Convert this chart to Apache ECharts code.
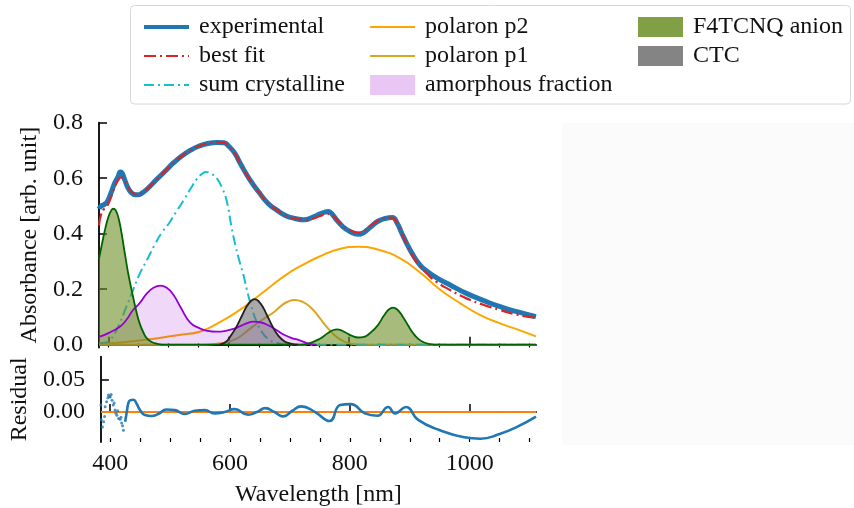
<!DOCTYPE html>
<html>
<head>
<meta charset="utf-8">
<script src="https://cdn.jsdelivr.net/npm/echarts@6/dist/echarts.min.js"></script>
<style>
  html, body { margin: 0; padding: 0; background: #fff; }
  #chart { width: 854px; height: 508px; }
</style>
</head>
<body>
<div id="chart"></div>
<script>
// Absorption spectrum of the doped film, its fit decomposition and residual.
// Each array holds [wavelength (nm), value] pairs.

const experimental = [
  [384.5,0.490],[388,0.500],[393,0.505],[398,0.515],[404,0.545],[410,0.580],[416,0.605],
  [420,0.622],[423,0.618],[427,0.595],[432,0.568],[438,0.548],[445,0.540],[450,0.540],
  [457,0.548],[465,0.562],[480,0.595],[495,0.627],[508,0.655],[522,0.680],[536,0.700],
  [550,0.715],[565,0.725],[580,0.729],[592,0.728],[600,0.715],[610,0.690],[620,0.650],
  [635,0.595],[650,0.550],[665,0.510],[680,0.485],[695,0.465],[710,0.455],[725,0.450],
  [740,0.460],[752,0.472],[760,0.478],[766,0.480],[772,0.470],[780,0.448],[790,0.425],
  [800,0.410],[815,0.398],[825,0.405],[835,0.423],[848,0.445],[860,0.455],[872,0.458],
  [880,0.438],[888,0.400],[897,0.360],[905,0.328],[918,0.287],[930,0.264],[945,0.242],
  [968,0.215],[995,0.185],[1023,0.160],[1051,0.137],[1079,0.119],[1110.7,0.101]
];

const bestFit = [
  [384.5,0.430],[388,0.470],[393,0.490],[398,0.500],[404,0.530],[410,0.565],[416,0.592],
  [421,0.603],[426,0.595],[432,0.572],[438,0.552],[445,0.543],[450,0.542],
  [457,0.548],[465,0.562],[480,0.595],[495,0.627],[508,0.655],[522,0.680],[536,0.700],
  [550,0.715],[565,0.725],[580,0.729],[592,0.728],[600,0.715],[610,0.690],[620,0.650],
  [635,0.595],[650,0.550],[665,0.510],[680,0.485],[695,0.465],[710,0.455],[725,0.450],
  [740,0.455],[752,0.464],[762,0.470],[768,0.471],[775,0.462],[782,0.445],[790,0.428],
  [800,0.414],[815,0.404],[825,0.410],[835,0.427],[848,0.447],[860,0.456],[870,0.458],
  [878,0.445],[886,0.410],[895,0.365],[905,0.322],[918,0.283],[930,0.255],[945,0.227],
  [968,0.197],[995,0.167],[1023,0.144],[1051,0.125],[1079,0.108],[1110.7,0.097]
];

const sumCrystalline = [
  [384.5,0.005],[395,0.008],[403,0.017],[415,0.060],[430,0.137],[441,0.197],[452,0.255],
  [464,0.305],[477,0.360],[489,0.405],[500,0.435],[513,0.480],[525,0.520],[536,0.560],
  [548,0.600],[556,0.616],[562,0.622],[570,0.617],[580,0.600],[590,0.560],[597,0.515],
  [605,0.420],[612,0.350],[618,0.300],[624,0.255],[630,0.200],[636,0.150],[646,0.085],
  [657,0.040],[666,0.020],[674,0.010],[690,0.002],[710,0.0],[1110.7,0.0]
];

const polaronP2 = [
  [384.5,0.004],[420,0.008],[455,0.016],[490,0.026],[520,0.036],[552,0.047],[580,0.075],
  [614,0.119],[640,0.160],[669,0.209],[694,0.250],[718,0.282],[751,0.318],[784,0.345],
  [815,0.353],[851,0.341],[885,0.311],[918,0.260],[951,0.199],[985,0.149],[1018,0.107],
  [1051,0.077],[1085,0.051],[1110.7,0.030]
];

const polaronP1 = [
  [384.5,0.0],[560,0.0],[590,0.006],[614,0.023],[636,0.059],[656,0.090],[676,0.119],
  [687,0.140],[698,0.155],[710,0.161],[722,0.155],[735,0.137],[747.5,0.107],[758,0.077],
  [770,0.047],[780,0.027],[792,0.011],[805,0.003],[820,0.0],[1110.7,0.0]
];

const amorphous = [
  [384.5,0.028],[400,0.042],[419,0.065],[430,0.090],[441,0.125],[452,0.150],[464,0.185],
  [475,0.205],[486,0.213],[497,0.205],[508,0.180],[520,0.135],[536,0.080],[552,0.059],
  [565,0.050],[580,0.047],[595,0.050],[608,0.057],[620,0.068],[632,0.079],[641,0.083],
  [652,0.081],[664,0.072],[678,0.055],[692,0.036],[705,0.024],[718,0.016],[730,0.006],
  [745,0.0]
];

const f4tcnqAnion = [
  [384.5,0.310],[390,0.370],[395,0.420],[400,0.460],[405,0.485],[408,0.490],[412,0.485],
  [417,0.455],[422,0.400],[428,0.320],[434,0.245],[441,0.173],[447,0.115],[452,0.077],
  [458,0.045],[464,0.023],[472,0.010],[480,0.004],[495,0.0],[720,0.0],[735,0.006],
  [750,0.020],[765,0.042],[774,0.053],[780,0.055],[787,0.052],[795,0.043],[805,0.032],
  [815,0.026],[823,0.027],[835,0.042],[847,0.068],[858,0.105],[866,0.127],[873,0.134],
  [880,0.127],[889,0.102],[898,0.070],[906,0.043],[915,0.021],[925,0.008],[938,0.001],
  [950,0.0],[1110.7,0.0]
];

const ctc = [
  [585,0.0],[595,0.010],[603,0.031],[613,0.065],[623,0.109],[633,0.148],[643,0.164],
  [653,0.148],[663,0.109],[673,0.065],[683,0.031],[693,0.012],[703,0.004],[715,0.0]
];

// Residual: the noisy short-wavelength end is drawn as loose points,
// the rest as a connected trace.
const residualPoints = [
  [384.4,0.0107],[385,-0.012],[387,-0.023],[389,-0.015],[390.5,-0.007],[391.5,0.008],
  [394,0.016],[396,0.022],[397,0.026],[399,0.024],[400,0.023],[401.5,0.027],[403,0.018],
  [405,0.011],[406.5,0.014],[408,0.003],[409.5,-0.002],[411,-0.005],[412.5,0.002],
  [414,-0.010],[416.5,-0.011],[418,-0.008],[419,-0.017],[420.5,-0.021],[422,-0.028]
];

const residualLine = [
  [424.8,-0.015],[427.6,0.0],[430,0.013],[433,0.018],[438.7,0.019],[444,0.013],
  [449.7,0.003],[458,-0.0046],[469,-0.006],[480,-0.003],[494,0.004],[508,0.003],
  [524.5,-0.003],[541,0.002],[557.7,0.003],[574,-0.002],[591,0.0],[607.6,0.0045],
  [630,-0.004],[645,0.0],[659,0.006],[674,0.0],[689,-0.0066],[704,0.002],[718.6,0.0087],
  [742,0.0],[766,-0.0138],[783.7,0.0107],[801.5,0.0122],[825,-0.002],[846,-0.0056],
  [863.7,0.0077],[875.6,-0.002],[893.4,0.0077],[914,-0.012],[949.5,-0.0276],
  [991,-0.0388],[1017.6,-0.041],[1050,-0.0337],[1079.8,-0.0224],[1110.7,-0.007]
];

const zeroLine = [[384.4,0],[1110.7,0]];

const xMajorTicks = [400, 600, 800, 1000];
const xMinorTicks = [400,450,500,550,600,650,700,750,800,850,900,950,1000,1050,1100];
const absTicks = [0, 0.2, 0.4, 0.6, 0.8];
const residualTicks = [0, 0.05];

const FONT = "'Liberation Serif', 'DejaVu Serif', serif";
const FS = 24;
const TXT = '#111';
const X_MIN = 384.4, X_MAX = 1110.7;

const chart = echarts.init(document.getElementById('chart'), null, { renderer: 'canvas' });

function xAxisMajor(gridIndex, showLabels) {
  return {
    type: 'value', gridIndex, min: X_MIN, max: X_MAX, position: 'bottom',
    axisLine: { show: true, lineStyle: { color: '#000', width: 1.8 } },
    axisTick: { show: true, inside: true, length: 8, customValues: xMajorTicks,
                lineStyle: { color: '#000', width: 1.5 } },
    axisLabel: { show: showLabels, customValues: xMajorTicks, margin: 10,
                 fontFamily: FONT, fontSize: FS, color: TXT, formatter: v => String(v) },
    splitLine: { show: false },
    name: showLabels ? 'Wavelength [nm]' : '',
    nameLocation: 'middle', nameGap: 41,
    nameTextStyle: { fontFamily: FONT, fontSize: FS, color: TXT }
  };
}
function xAxisMinor(gridIndex) {
  return {
    type: 'value', gridIndex, min: X_MIN, max: X_MAX, position: 'bottom',
    axisLine: { show: false },
    axisTick: { show: true, inside: true, length: 4, customValues: xMinorTicks,
                lineStyle: { color: '#000', width: 1.2 } },
    axisLabel: { show: false },
    splitLine: { show: false }
  };
}

function curve(name, data, color, width, dash, z, extra) {
  return Object.assign({
    name, type: 'line', data, xAxisIndex: 0, yAxisIndex: 0,
    showSymbol: false, symbol: 'none', smooth: 0.5,
    lineStyle: { color, width, type: dash || 'solid', cap: 'butt', join: 'round' },
    itemStyle: { color }, z, silent: true, animation: false
  }, extra || {});
}

const lineIcon = (name, width) => ({ name, lineStyle: { width } });
const patchIcon = (name, color) => ({ name, icon: 'rect', itemStyle: { color, opacity: 1, borderWidth: 0 } });

function legend(left, items) {
  return {
    left, top: 10, orient: 'vertical', itemWidth: 45, itemHeight: 20, itemGap: 5,
    selectedMode: false, data: items,
    itemStyle: { opacity: 0 },
    textStyle: { fontFamily: FONT, fontSize: FS, color: TXT, padding: [0, 0, 0, 5] }
  };
}

const option = {
  backgroundColor: '#fff',
  animation: false,
  graphic: [
    { type: 'rect', z: -10, silent: true,
      shape: { x: 562, y: 123, width: 292, height: 322 },
      style: { fill: '#fbfbfb' } },
    { type: 'rect', z: 0, silent: true,
      shape: { x: 130.5, y: 5.5, width: 720, height: 98.5, r: 4 },
      style: { fill: 'rgba(255,255,255,0.85)', stroke: '#d8d8d8', lineWidth: 1 } }
  ],
  legend: [
    legend(137, [lineIcon('experimental', 4), lineIcon('best fit', 2), lineIcon('sum crystalline', 2)]),
    legend(364, [lineIcon('polaron p2', 2.2), lineIcon('polaron p1', 2.2),
                 patchIcon('amorphous fraction', 'rgba(148,0,211,0.22)')]),
    legend(633, [patchIcon('F4TCNQ anion', 'rgba(107,142,35,0.85)'),
                 patchIcon('CTC', 'rgba(110,110,110,0.85)')])
  ],
  grid: [
    { left: 99, top: 122.7, width: 437, height: 224.8, containLabel: false },
    { left: 99, top: 356.7, width: 437, height: 85.6, containLabel: false }
  ],
  xAxis: [xAxisMajor(0, false), xAxisMinor(0), xAxisMajor(1, true), xAxisMinor(1)],
  yAxis: [
    {
      type: 'value', gridIndex: 0, min: -0.01, max: 0.8,
      axisLine: { show: true, lineStyle: { color: '#000', width: 1.8 } },
      axisTick: { show: true, inside: true, length: 8, customValues: absTicks,
                  lineStyle: { color: '#000', width: 1.5 } },
      axisLabel: { customValues: absTicks, margin: 16, fontFamily: FONT, fontSize: FS, color: TXT,
                   formatter: v => v.toFixed(1) },
      splitLine: { show: false },
      name: 'Absorbance [arb. unit]', nameLocation: 'middle', nameGap: 55,
      nameTextStyle: { fontFamily: FONT, fontSize: FS, color: TXT }
    },
    {
      type: 'value', gridIndex: 1, min: -0.046, max: 0.085,
      axisLine: { show: true, lineStyle: { color: '#000', width: 1.8 } },
      axisTick: { show: true, inside: true, length: 8, customValues: residualTicks,
                  lineStyle: { color: '#000', width: 1.5 } },
      axisLabel: { customValues: residualTicks, margin: 16, fontFamily: FONT, fontSize: FS, color: TXT,
                   formatter: v => v.toFixed(2) },
      splitLine: { show: false },
      name: 'Residual', nameLocation: 'middle', nameGap: 55,
      nameTextStyle: { fontFamily: FONT, fontSize: FS, color: TXT }
    }
  ],
  series: [
    curve('polaron p2', polaronP2, '#ffa500', 2, 'solid', 2),
    curve('polaron p1', polaronP1, '#daa520', 2, 'solid', 2),
    curve('sum crystalline', sumCrystalline, '#17becf', 2, [10, 4, 2, 4], 2),
    curve('amorphous fraction', amorphous, '#9400d3', 1.8, 'solid', 3,
          { areaStyle: { color: 'rgba(148,0,211,0.22)', origin: 0 } }),
    curve('F4TCNQ anion', f4tcnqAnion, '#006400', 1.8, 'solid', 3,
          { areaStyle: { color: 'rgba(107,142,35,0.85)', origin: 0 } }),
    curve('CTC', ctc, '#222', 1.8, 'solid', 3,
          { areaStyle: { color: 'rgba(110,110,110,0.85)', origin: 0 } }),
    curve('experimental', experimental, '#1f77b4', 5, 'solid', 4),
    curve('best fit', bestFit, '#d62728', 2.2, [12, 4, 2, 4], 5),
    {
      name: 'zero', type: 'line', data: zeroLine, xAxisIndex: 2, yAxisIndex: 1,
      showSymbol: false, symbol: 'none', lineStyle: { color: '#ff7f0e', width: 2 },
      z: 2, silent: true
    },
    {
      name: 'residual', type: 'line', data: residualLine, xAxisIndex: 2, yAxisIndex: 1,
      showSymbol: false, symbol: 'none', smooth: 0.5,
      lineStyle: { color: '#1f77b4', width: 2.6 }, z: 3, silent: true
    },
    {
      name: 'residual points', type: 'scatter', data: residualPoints, xAxisIndex: 2, yAxisIndex: 1,
      symbol: 'circle', symbolSize: 3, itemStyle: { color: '#1f77b4' }, z: 3, silent: true
    }
  ]
};

chart.setOption(option);
</script>
</body>
</html>
